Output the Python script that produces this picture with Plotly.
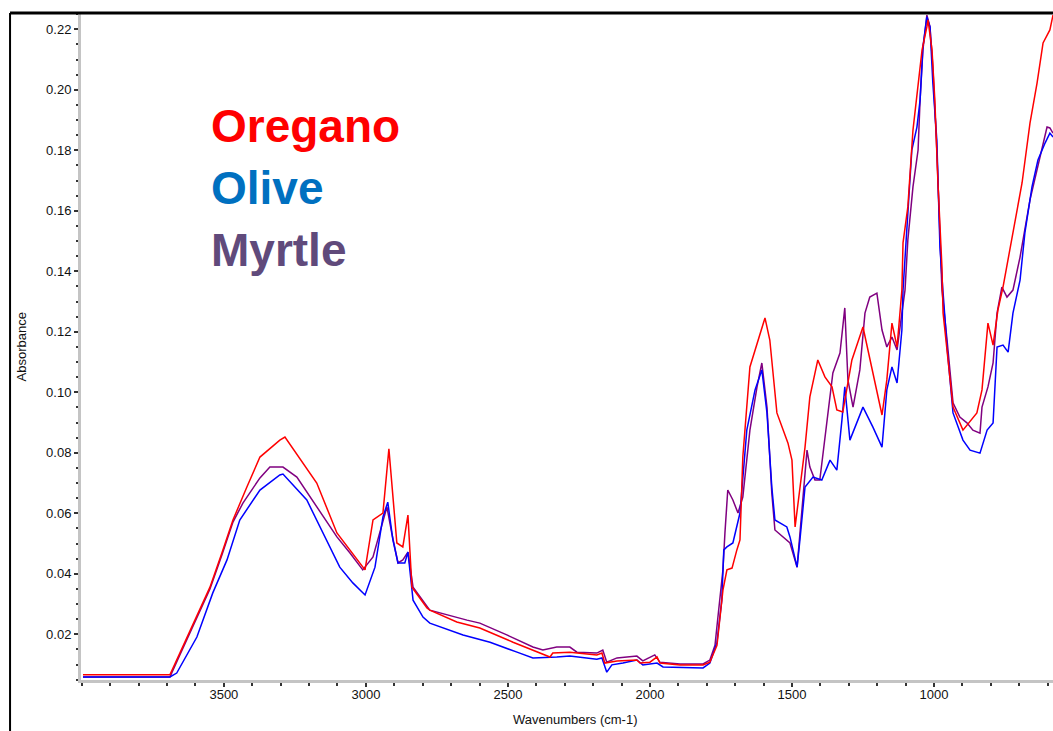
import plotly.graph_objects as go

# ---- data (wavenumber cm-1, absorbance) ----
oregano_wn = [3996, 3866, 3690, 3655, 3602, 3549, 3507, 3468, 3419, 3373, 3303, 3285, 3173, 3102, 3003, 2975,
              2940, 2919, 2891, 2870, 2852, 2838, 2785, 2775, 2680, 2599, 2482, 2398, 2352, 2342, 2282, 2187,
              2169, 2159, 2116, 2046, 2035, 2000, 1975, 1965, 1894, 1813, 1789, 1764, 1754, 1743, 1729, 1711,
              1694, 1683, 1673, 1648, 1595, 1578, 1553, 1514, 1500, 1489, 1454, 1437, 1409, 1384, 1359, 1342,
              1321, 1289, 1250, 1218, 1183, 1166, 1148, 1130, 1113, 1109, 1092, 1074, 1056, 1042, 1025, 1021,
              1007, 997, 986, 972, 968, 933, 898, 849, 831, 810, 792, 775, 757, 722, 690, 662, 637, 616, 592, 581]
oregano_abs = [0.0066, 0.0066, 0.0066, 0.0138, 0.0247, 0.0356, 0.0469, 0.0578, 0.0687, 0.0786, 0.0842, 0.0852,
               0.0700, 0.0535, 0.0413, 0.0578, 0.0601, 0.0813, 0.0502, 0.0489, 0.0594, 0.0356, 0.0287, 0.0280,
               0.0241, 0.0221, 0.0174, 0.0141, 0.0125, 0.0138, 0.0141, 0.0132, 0.0138, 0.0105, 0.0112, 0.0115,
               0.0105, 0.0108, 0.0125, 0.0105, 0.0099, 0.0099, 0.0108, 0.0164, 0.0247, 0.0346, 0.0413, 0.0419,
               0.0479, 0.0512, 0.0786, 0.1084, 0.1246, 0.1173, 0.0932, 0.0832, 0.0776, 0.0555, 0.0819, 0.0985,
               0.1107, 0.1051, 0.1018, 0.0942, 0.0935, 0.1107, 0.1216, 0.1074, 0.0925, 0.1041, 0.1229, 0.1150,
               0.1338, 0.1494, 0.1613, 0.1867, 0.2023, 0.2132, 0.2208, 0.2231, 0.2132, 0.1966, 0.1692, 0.1414,
               0.1262, 0.0951, 0.0875, 0.0932, 0.1008, 0.1229, 0.1156, 0.1272, 0.1348, 0.1527, 0.1692, 0.1890,
               0.2023, 0.2155, 0.2198, 0.2247]

olive_wn = [3996, 3690, 3666, 3595, 3539, 3489, 3444, 3373, 3303, 3292, 3208, 3151, 3092, 3046, 3003, 2968,
            2940, 2923, 2905, 2887, 2863, 2852, 2834, 2799, 2775, 2658, 2563, 2468, 2412, 2328, 2282, 2187,
            2169, 2152, 2134, 2095, 2046, 2025, 1975, 1954, 1813, 1789, 1764, 1747, 1740, 1729, 1708, 1683,
            1659, 1630, 1606, 1588, 1571, 1560, 1518, 1507, 1482, 1472, 1454, 1426, 1395, 1366, 1342, 1324,
            1314, 1296, 1250, 1215, 1183, 1166, 1148, 1130, 1113, 1109, 1092, 1078, 1060, 1049, 1039, 1025,
            1014, 1004, 990, 979, 972, 954, 933, 898, 873, 838, 813, 792, 778, 757, 739, 722, 697, 680, 655,
            634, 609, 592, 581]
olive_abs = [0.0059, 0.0059, 0.0072, 0.0191, 0.0337, 0.0446, 0.0578, 0.0677, 0.0727, 0.0730, 0.0644, 0.0535,
             0.0422, 0.0370, 0.0330, 0.0422, 0.0588, 0.0637, 0.0512, 0.0436, 0.0436, 0.0472, 0.0313, 0.0257,
             0.0237, 0.0198, 0.0174, 0.0141, 0.0122, 0.0125, 0.0128, 0.0118, 0.0122, 0.0075, 0.0099, 0.0105,
             0.0115, 0.0099, 0.0105, 0.0092, 0.0089, 0.0105, 0.0174, 0.0313, 0.0479, 0.0489, 0.0502, 0.0601,
             0.0875, 0.1008, 0.1074, 0.0932, 0.0687, 0.0578, 0.0555, 0.0522, 0.0422, 0.0512, 0.0687, 0.0720,
             0.0710, 0.0776, 0.0743, 0.0909, 0.1018, 0.0842, 0.0951, 0.0885, 0.0819, 0.1008, 0.1084, 0.1031,
             0.1206, 0.1338, 0.1580, 0.1801, 0.1877, 0.1966, 0.2142, 0.2241, 0.2208, 0.2023, 0.1834, 0.1480,
             0.1381, 0.1150, 0.0932, 0.0842, 0.0809, 0.0799, 0.0875, 0.0899, 0.1150, 0.1156, 0.1133, 0.1262,
             0.1371, 0.1527, 0.1679, 0.1768, 0.1824, 0.1857, 0.1844]

myrtle_wn = [3996, 3690, 3655, 3602, 3549, 3507, 3468, 3433, 3373, 3338, 3292, 3243, 3173, 3102, 3056, 3011,
             2975, 2951, 2926, 2909, 2887, 2870, 2852, 2834, 2799, 2775, 2644, 2599, 2504, 2412, 2377, 2328,
             2282, 2257, 2187, 2166, 2152, 2116, 2046, 2025, 1983, 1965, 1894, 1813, 1789, 1771, 1761, 1754,
             1743, 1736, 1726, 1708, 1690, 1673, 1648, 1623, 1606, 1588, 1571, 1560, 1532, 1507, 1482, 1465,
             1447, 1437, 1419, 1402, 1377, 1356, 1331, 1314, 1303, 1285, 1261, 1243, 1226, 1201, 1183, 1166,
             1148, 1130, 1113, 1102, 1092, 1074, 1056, 1049, 1039, 1025, 1014, 1004, 990, 979, 972, 954, 933,
             909, 884, 863, 838, 831, 810, 792, 778, 761, 743, 722, 697, 662, 645, 627, 602, 592, 581]
myrtle_abs = [0.0059, 0.0059, 0.0132, 0.0241, 0.0350, 0.0462, 0.0571, 0.0634, 0.0717, 0.0753, 0.0753, 0.0720,
              0.0621, 0.0522, 0.0469, 0.0413, 0.0456, 0.0535, 0.0621, 0.0535, 0.0436, 0.0446, 0.0472, 0.0356,
              0.0313, 0.0280, 0.0247, 0.0237, 0.0198, 0.0158, 0.0148, 0.0158, 0.0158, 0.0141, 0.0138, 0.0148,
              0.0108, 0.0122, 0.0128, 0.0112, 0.0132, 0.0108, 0.0102, 0.0102, 0.0115, 0.0164, 0.0254, 0.0313,
              0.0413, 0.0535, 0.0677, 0.0644, 0.0601, 0.0654, 0.0875, 0.1018, 0.1097, 0.0951, 0.0667, 0.0545,
              0.0522, 0.0502, 0.0422, 0.0601, 0.0809, 0.0753, 0.0710, 0.0710, 0.0909, 0.1064, 0.1130, 0.1279,
              0.1041, 0.0951, 0.1074, 0.1262, 0.1315, 0.1328, 0.1206, 0.1150, 0.1183, 0.1140, 0.1262, 0.1338,
              0.1504, 0.1679, 0.1801, 0.1966, 0.2132, 0.2247, 0.2208, 0.2076, 0.1801, 0.1504, 0.1338, 0.1173,
              0.0965, 0.0918, 0.0899, 0.0875, 0.0865, 0.0951, 0.1018, 0.1097, 0.1262, 0.1348, 0.1315, 0.1338,
              0.1447, 0.1636, 0.1702, 0.1778, 0.1877, 0.1874, 0.1857]

x_tick_vals = [3500, 3000, 2500, 2000, 1500, 1000]
x_tick_text = ["3500", "3000", "2500", "2000", "1500", "1000"]
y_tick_vals = [0.02, 0.04, 0.06, 0.08, 0.10, 0.12, 0.14, 0.16, 0.18, 0.20, 0.22]
y_tick_text = ["0.02", "0.04", "0.06", "0.08", "0.10", "0.12", "0.14", "0.16", "0.18", "0.20", "0.22"]

names = ["Oregano", "Olive", "Myrtle"]
label_colors = ["#ff0000", "#0070c0", "#604a7b"]

FONT = "Liberation Sans, Arial, sans-serif"

fig = go.Figure()
fig.add_trace(go.Scatter(x=myrtle_wn, y=myrtle_abs, mode="lines", name="Myrtle",
                         line=dict(color="#800080", width=1.5)))
fig.add_trace(go.Scatter(x=olive_wn, y=olive_abs, mode="lines", name="Olive",
                         line=dict(color="#0000ff", width=1.5)))
fig.add_trace(go.Scatter(x=oregano_wn, y=oregano_abs, mode="lines", name="Oregano",
                         line=dict(color="#ff0000", width=1.5)))

axis_common = dict(showline=True, linecolor="#c4c4c4", linewidth=3, showgrid=False, zeroline=False,
                   ticks="outside", ticklen=4, tickwidth=1.5, tickcolor="#333333",
                   tickfont=dict(family=FONT, size=13, color="#111111"))

fig.update_xaxes(range=[4003, 581], tickmode="array", tickvals=x_tick_vals, ticktext=x_tick_text,
                 minor=dict(dtick=100, tick0=0, ticks="outside", ticklen=3, tickcolor="#333333", tickwidth=1.5),
                 **axis_common)
fig.update_yaxes(range=[0.0049, 0.2254], tickmode="array", tickvals=y_tick_vals, ticktext=y_tick_text,
                 minor=dict(dtick=0.005, tick0=0, ticks="outside", ticklen=2, tickcolor="#333333", tickwidth=1.5),
                 **axis_common)
try:
    fig.update_xaxes(ticklabelstandoff=-4)
except Exception:
    pass

# frame lines
fig.add_shape(type="line", xref="paper", yref="paper", x0=-0.073, x1=1.0, y0=1.0, y1=1.0,
              line=dict(color="black", width=3))
fig.add_shape(type="line", xref="paper", yref="paper", x0=-0.073, x1=-0.073, y0=1.0, y1=-0.08,
              line=dict(color="black", width=2))

# label annotations
label_y = [0.830, 0.737, 0.645]
for name, col, yy in zip(names, label_colors, label_y):
    fig.add_annotation(text=name, xref="paper", yref="paper", x=0.132, y=yy, xanchor="left",
                       yanchor="middle", showarrow=False,
                       font=dict(family=FONT, size=46, color=col, weight="bold"))

fig.add_annotation(text="Absorbance", xref="paper", yref="paper", x=-0.0607, y=0.50, textangle=-90,
                   xanchor="center", yanchor="middle",
                   showarrow=False, font=dict(family=FONT, size=13, color="#111111"))
fig.add_annotation(text="Wavenumbers (cm-1)", xref="paper", yref="paper", x=0.508, y=-0.0585,
                   xanchor="center", yanchor="middle",
                   showarrow=False, font=dict(family=FONT, size=13, color="#111111"))

fig.update_layout(width=1053, height=731, margin=dict(l=81, r=0, t=13, b=51),
                  plot_bgcolor="white", paper_bgcolor="white", showlegend=False, hovermode=False)

# remove the default page margin so the figure fills the window exactly
fig.write_html("out.html", config={"displayModeBar": False},
               post_script="document.body.style.margin='0';document.body.style.overflow='hidden';")
